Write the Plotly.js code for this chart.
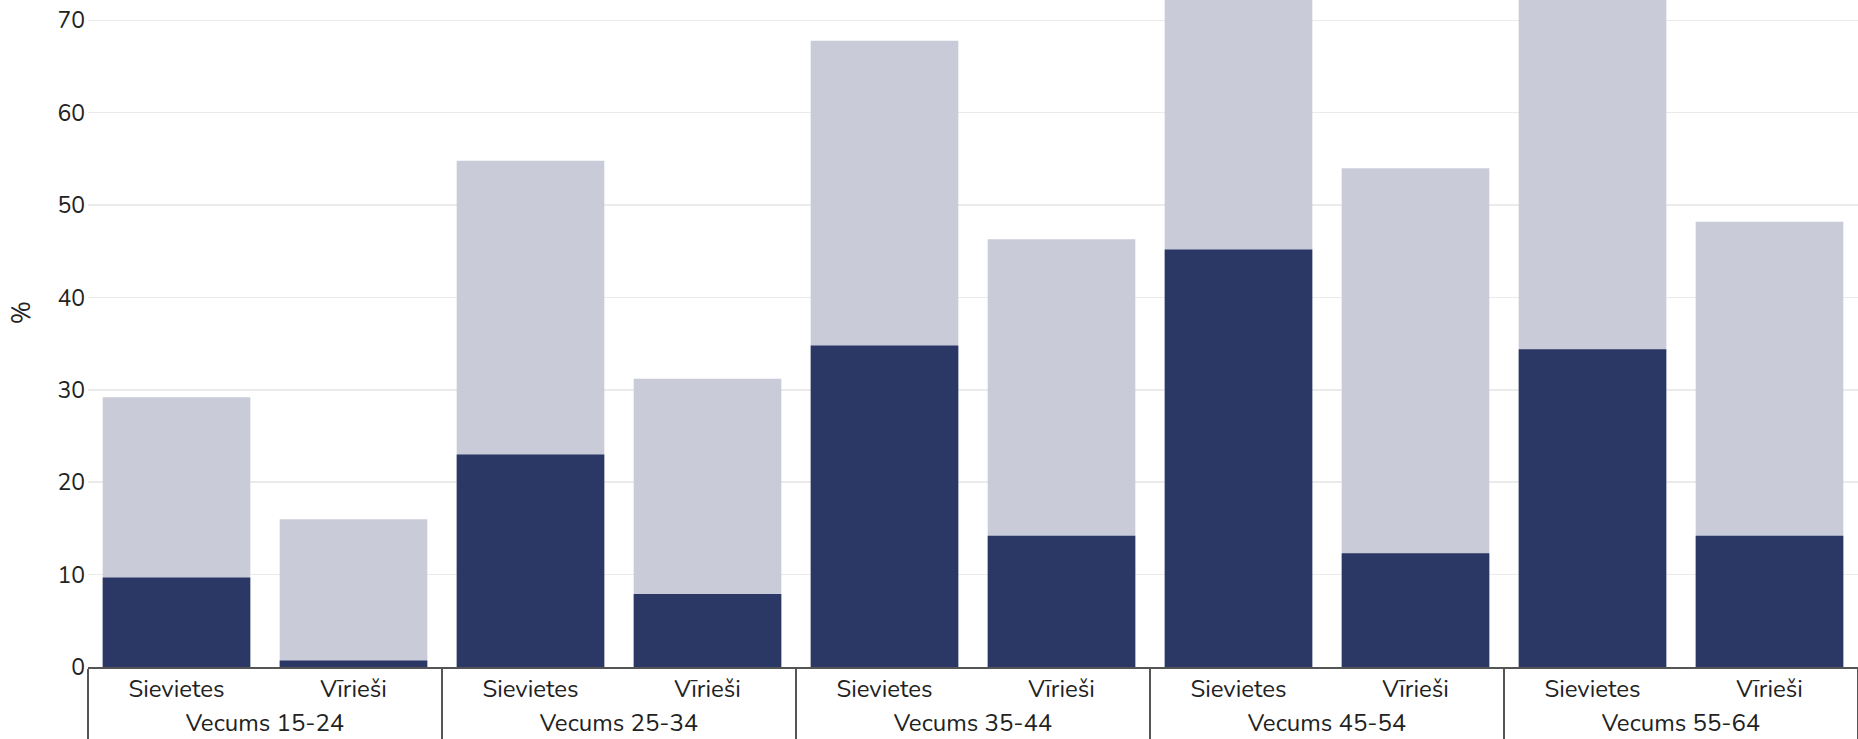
<!DOCTYPE html>
<html>
<head>
<meta charset="utf-8">
<script src="https://cdn.plot.ly/plotly-3.0.1.min.js"></script>
<style>html,body{margin:0;padding:0;background:#fff;}#chart{width:1858px;height:739px;}</style>
</head>
<body>
<div id="chart"></div>
<script>
const ageGroups = ["Vecums 15-24","Vecums 15-24","Vecums 25-34","Vecums 25-34","Vecums 35-44","Vecums 35-44","Vecums 45-54","Vecums 45-54","Vecums 55-64","Vecums 55-64"];
const sexes = ["Sievietes","Vīrieši","Sievietes","Vīrieši","Sievietes","Vīrieši","Sievietes","Vīrieši","Sievietes","Vīrieši"];
const totalValues = [29.2, 16.0, 54.8, 31.2, 67.8, 46.3, 78.0, 54.0, 76.0, 48.2];
const darkValues = [9.7, 0.7, 23.0, 7.9, 34.8, 14.2, 45.2, 12.3, 34.4, 14.2];

const traces = [
  {type:'bar', x:[ageGroups, sexes], y:totalValues, marker:{color:'#c9ccd8', line:{width:0}}, hoverinfo:'y', showlegend:false},
  {type:'bar', x:[ageGroups, sexes], y:darkValues, marker:{color:'#2b3764', line:{width:0}}, hoverinfo:'y', showlegend:false}
];
const family = 'Nunito, "Open Sans", sans-serif';
const yfont = {family:family, size:23, color:'#222'};
const xfont = {family:family, size:24, color:'#222'};
const layout = {
  width:1858, height:739,
  margin:{l:88, r:0, t:0, b:72},
  barmode:'overlay', bargap:0.166,
  paper_bgcolor:'#fff', plot_bgcolor:'#fff',
  font:yfont,
  showlegend:false,
  xaxis:{type:'multicategory', showline:true, linecolor:'#555', linewidth:1.5,
         showdividers:true, dividercolor:'#555', dividerwidth:1.5,
         tickfont:xfont, showgrid:false, ticks:''},
  yaxis:{range:[0,72.2], dtick:10, showgrid:true, gridcolor:'#ebebeb', gridwidth:1.5,
         zeroline:false, tickfont:yfont, ticks:'', ticklabelstandoff:2},
  annotations:[{text:'%', xref:'paper', yref:'paper', x:-0.0373, y:0.532, xanchor:'center', yanchor:'middle',
                textangle:-90, showarrow:false, font:{family:family, size:25, color:'#222'}}]
};
Plotly.newPlot('chart', traces, layout, {displayModeBar:false, staticPlot:true});
</script>
</body>
</html>
